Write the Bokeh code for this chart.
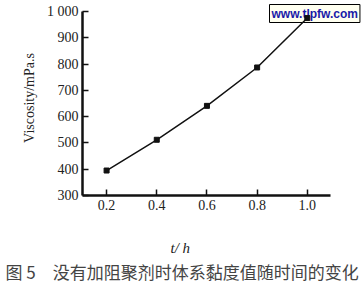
from bokeh.plotting import figure
from bokeh.models import Label, Range1d, FixedTicker, PrintfTickFormatter, Title
from bokeh.embed import file_html
from bokeh.resources import INLINE

time_h = [0.2, 0.4, 0.6, 0.8, 1.0]
viscosity = [395, 512, 641, 787, 975]
x_ticks = [0.2, 0.4, 0.6, 0.8, 1.0]
y_ticks = [300, 400, 500, 600, 700, 800, 900, 1000]
y_tick_labels = {300: "300", 400: "400", 500: "500", 600: "600", 700: "700",
                 800: "800", 900: "900", 1000: "1 000"}

p = figure(width=361, height=285, output_backend="svg", toolbar_location=None,
           x_range=Range1d(0.104, 1.216), y_range=Range1d(300, 1041.8),
           min_border_left=82, min_border_right=0, min_border_top=0, min_border_bottom=90)
p.outline_line_color = None
p.grid.visible = False
p.background_fill_color = "white"
p.border_fill_color = "white"

for ax in (p.xaxis[0], p.yaxis[0]):
    ax.axis_line_width = 2.5
    ax.axis_line_color = "#111111"
    ax.major_tick_in = 6
    ax.major_tick_out = 0
    ax.major_tick_line_width = 1.5
    ax.major_tick_line_color = "#111111"
    ax.minor_tick_line_color = None
    ax.major_label_text_font = "Liberation Serif"
    ax.major_label_text_font_size = "14px"
    ax.major_label_text_color = "#222222"
    ax.major_label_standoff = 4

p.xaxis[0].ticker = FixedTicker(ticks=x_ticks)
p.xaxis[0].formatter = PrintfTickFormatter(format="%.1f")
p.xaxis[0].bounds = (0.104, 1.092)
p.xaxis[0].axis_label = "\u00a0"
p.xaxis[0].axis_label_text_font_size = "10px"
p.xaxis[0].axis_label_standoff = 10
p.yaxis[0].ticker = FixedTicker(ticks=y_ticks)
p.yaxis[0].major_label_overrides = y_tick_labels
p.yaxis[0].bounds = (300, 1000)
p.yaxis[0].axis_label = "Viscosity/mPa.s"
p.yaxis[0].axis_label_text_font = "Liberation Serif"
p.yaxis[0].axis_label_text_font_style = "normal"
p.yaxis[0].axis_label_text_font_size = "14px"
p.yaxis[0].axis_label_text_color = "#222222"
p.yaxis[0].axis_label_standoff = 7

p.line(time_h, viscosity, line_color="#111111", line_width=1.5)
p.scatter(time_h, viscosity, marker="square", size=5, color="#111111")

p.add_layout(Title(text="t/ h", align="left", offset=88, standoff=2,
                   text_font="Liberation Serif", text_font_size="15px",
                   text_font_style="italic", text_color="#222222"), "below")
p.add_layout(Title(text="图 5\u3000没有加阻聚剂时体系黏度值随时间的变化", align="left", offset=-77,
                   standoff=0, text_font="Noto Sans CJK SC", text_font_size="17px",
                   text_font_style="normal", text_color="#444444"), "below")

# screen units are measured from the frame's bottom-left corner
p.add_layout(Label(x=187, y=182, x_units="screen", y_units="screen", text="www.tlpfw.com",
                   text_align="left", text_baseline="middle", text_font_style="bold",
                   text_font="Liberation Sans", text_font_size="12px", text_color="#1a1aa8",
                   background_fill_color="#fffff0", border_line_color="black",
                   border_line_width=1, padding=2, level="underlay"))

open("out.html", "w").write(file_html(p, INLINE))
